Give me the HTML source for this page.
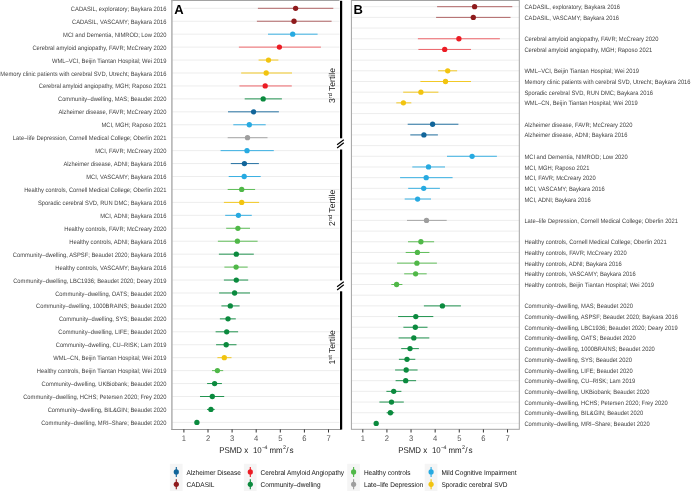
<!DOCTYPE html><html><head><meta charset="utf-8"><style>html,body{margin:0;padding:0;background:#fff;}svg{display:block;will-change:transform;}text{font-family:"Liberation Sans",sans-serif;text-rendering:geometricPrecision;}</style></head><body>
<svg width="691" height="491" viewBox="0 0 691 491">
<rect width="691" height="491" fill="#fff"/>
<line x1="171.9" x2="339.5" y1="8.30" y2="8.30" stroke="#ebebeb" stroke-width="0.9"/>
<line x1="171.9" x2="339.5" y1="21.24" y2="21.24" stroke="#ebebeb" stroke-width="0.9"/>
<line x1="171.9" x2="339.5" y1="34.18" y2="34.18" stroke="#ebebeb" stroke-width="0.9"/>
<line x1="171.9" x2="339.5" y1="47.12" y2="47.12" stroke="#ebebeb" stroke-width="0.9"/>
<line x1="171.9" x2="339.5" y1="60.06" y2="60.06" stroke="#ebebeb" stroke-width="0.9"/>
<line x1="171.9" x2="339.5" y1="73.00" y2="73.00" stroke="#ebebeb" stroke-width="0.9"/>
<line x1="171.9" x2="339.5" y1="85.94" y2="85.94" stroke="#ebebeb" stroke-width="0.9"/>
<line x1="171.9" x2="339.5" y1="98.88" y2="98.88" stroke="#ebebeb" stroke-width="0.9"/>
<line x1="171.9" x2="339.5" y1="111.82" y2="111.82" stroke="#ebebeb" stroke-width="0.9"/>
<line x1="171.9" x2="339.5" y1="124.76" y2="124.76" stroke="#ebebeb" stroke-width="0.9"/>
<line x1="171.9" x2="339.5" y1="137.70" y2="137.70" stroke="#ebebeb" stroke-width="0.9"/>
<line x1="171.9" x2="339.5" y1="150.64" y2="150.64" stroke="#ebebeb" stroke-width="0.9"/>
<line x1="171.9" x2="339.5" y1="163.58" y2="163.58" stroke="#ebebeb" stroke-width="0.9"/>
<line x1="171.9" x2="339.5" y1="176.52" y2="176.52" stroke="#ebebeb" stroke-width="0.9"/>
<line x1="171.9" x2="339.5" y1="189.46" y2="189.46" stroke="#ebebeb" stroke-width="0.9"/>
<line x1="171.9" x2="339.5" y1="202.40" y2="202.40" stroke="#ebebeb" stroke-width="0.9"/>
<line x1="171.9" x2="339.5" y1="215.34" y2="215.34" stroke="#ebebeb" stroke-width="0.9"/>
<line x1="171.9" x2="339.5" y1="228.28" y2="228.28" stroke="#ebebeb" stroke-width="0.9"/>
<line x1="171.9" x2="339.5" y1="241.22" y2="241.22" stroke="#ebebeb" stroke-width="0.9"/>
<line x1="171.9" x2="339.5" y1="254.16" y2="254.16" stroke="#ebebeb" stroke-width="0.9"/>
<line x1="171.9" x2="339.5" y1="267.10" y2="267.10" stroke="#ebebeb" stroke-width="0.9"/>
<line x1="171.9" x2="339.5" y1="280.04" y2="280.04" stroke="#ebebeb" stroke-width="0.9"/>
<line x1="171.9" x2="339.5" y1="292.98" y2="292.98" stroke="#ebebeb" stroke-width="0.9"/>
<line x1="171.9" x2="339.5" y1="305.92" y2="305.92" stroke="#ebebeb" stroke-width="0.9"/>
<line x1="171.9" x2="339.5" y1="318.86" y2="318.86" stroke="#ebebeb" stroke-width="0.9"/>
<line x1="171.9" x2="339.5" y1="331.80" y2="331.80" stroke="#ebebeb" stroke-width="0.9"/>
<line x1="171.9" x2="339.5" y1="344.74" y2="344.74" stroke="#ebebeb" stroke-width="0.9"/>
<line x1="171.9" x2="339.5" y1="357.68" y2="357.68" stroke="#ebebeb" stroke-width="0.9"/>
<line x1="171.9" x2="339.5" y1="370.62" y2="370.62" stroke="#ebebeb" stroke-width="0.9"/>
<line x1="171.9" x2="339.5" y1="383.56" y2="383.56" stroke="#ebebeb" stroke-width="0.9"/>
<line x1="171.9" x2="339.5" y1="396.50" y2="396.50" stroke="#ebebeb" stroke-width="0.9"/>
<line x1="171.9" x2="339.5" y1="409.44" y2="409.44" stroke="#ebebeb" stroke-width="0.9"/>
<line x1="171.9" x2="339.5" y1="422.38" y2="422.38" stroke="#ebebeb" stroke-width="0.9"/>
<line x1="351.9" x2="519.3" y1="6.70" y2="6.70" stroke="#ebebeb" stroke-width="0.9"/>
<line x1="351.9" x2="519.3" y1="17.39" y2="17.39" stroke="#ebebeb" stroke-width="0.9"/>
<line x1="351.9" x2="519.3" y1="28.07" y2="28.07" stroke="#ebebeb" stroke-width="0.9"/>
<line x1="351.9" x2="519.3" y1="38.76" y2="38.76" stroke="#ebebeb" stroke-width="0.9"/>
<line x1="351.9" x2="519.3" y1="49.44" y2="49.44" stroke="#ebebeb" stroke-width="0.9"/>
<line x1="351.9" x2="519.3" y1="60.13" y2="60.13" stroke="#ebebeb" stroke-width="0.9"/>
<line x1="351.9" x2="519.3" y1="70.81" y2="70.81" stroke="#ebebeb" stroke-width="0.9"/>
<line x1="351.9" x2="519.3" y1="81.50" y2="81.50" stroke="#ebebeb" stroke-width="0.9"/>
<line x1="351.9" x2="519.3" y1="92.18" y2="92.18" stroke="#ebebeb" stroke-width="0.9"/>
<line x1="351.9" x2="519.3" y1="102.87" y2="102.87" stroke="#ebebeb" stroke-width="0.9"/>
<line x1="351.9" x2="519.3" y1="113.55" y2="113.55" stroke="#ebebeb" stroke-width="0.9"/>
<line x1="351.9" x2="519.3" y1="124.24" y2="124.24" stroke="#ebebeb" stroke-width="0.9"/>
<line x1="351.9" x2="519.3" y1="134.92" y2="134.92" stroke="#ebebeb" stroke-width="0.9"/>
<line x1="351.9" x2="519.3" y1="145.60" y2="145.60" stroke="#ebebeb" stroke-width="0.9"/>
<line x1="351.9" x2="519.3" y1="156.29" y2="156.29" stroke="#ebebeb" stroke-width="0.9"/>
<line x1="351.9" x2="519.3" y1="166.97" y2="166.97" stroke="#ebebeb" stroke-width="0.9"/>
<line x1="351.9" x2="519.3" y1="177.66" y2="177.66" stroke="#ebebeb" stroke-width="0.9"/>
<line x1="351.9" x2="519.3" y1="188.34" y2="188.34" stroke="#ebebeb" stroke-width="0.9"/>
<line x1="351.9" x2="519.3" y1="199.03" y2="199.03" stroke="#ebebeb" stroke-width="0.9"/>
<line x1="351.9" x2="519.3" y1="209.72" y2="209.72" stroke="#ebebeb" stroke-width="0.9"/>
<line x1="351.9" x2="519.3" y1="220.40" y2="220.40" stroke="#ebebeb" stroke-width="0.9"/>
<line x1="351.9" x2="519.3" y1="231.09" y2="231.09" stroke="#ebebeb" stroke-width="0.9"/>
<line x1="351.9" x2="519.3" y1="241.77" y2="241.77" stroke="#ebebeb" stroke-width="0.9"/>
<line x1="351.9" x2="519.3" y1="252.46" y2="252.46" stroke="#ebebeb" stroke-width="0.9"/>
<line x1="351.9" x2="519.3" y1="263.14" y2="263.14" stroke="#ebebeb" stroke-width="0.9"/>
<line x1="351.9" x2="519.3" y1="273.82" y2="273.82" stroke="#ebebeb" stroke-width="0.9"/>
<line x1="351.9" x2="519.3" y1="284.51" y2="284.51" stroke="#ebebeb" stroke-width="0.9"/>
<line x1="351.9" x2="519.3" y1="295.19" y2="295.19" stroke="#ebebeb" stroke-width="0.9"/>
<line x1="351.9" x2="519.3" y1="305.88" y2="305.88" stroke="#ebebeb" stroke-width="0.9"/>
<line x1="351.9" x2="519.3" y1="316.56" y2="316.56" stroke="#ebebeb" stroke-width="0.9"/>
<line x1="351.9" x2="519.3" y1="327.25" y2="327.25" stroke="#ebebeb" stroke-width="0.9"/>
<line x1="351.9" x2="519.3" y1="337.94" y2="337.94" stroke="#ebebeb" stroke-width="0.9"/>
<line x1="351.9" x2="519.3" y1="348.62" y2="348.62" stroke="#ebebeb" stroke-width="0.9"/>
<line x1="351.9" x2="519.3" y1="359.31" y2="359.31" stroke="#ebebeb" stroke-width="0.9"/>
<line x1="351.9" x2="519.3" y1="369.99" y2="369.99" stroke="#ebebeb" stroke-width="0.9"/>
<line x1="351.9" x2="519.3" y1="380.68" y2="380.68" stroke="#ebebeb" stroke-width="0.9"/>
<line x1="351.9" x2="519.3" y1="391.36" y2="391.36" stroke="#ebebeb" stroke-width="0.9"/>
<line x1="351.9" x2="519.3" y1="402.05" y2="402.05" stroke="#ebebeb" stroke-width="0.9"/>
<line x1="351.9" x2="519.3" y1="412.73" y2="412.73" stroke="#ebebeb" stroke-width="0.9"/>
<line x1="351.9" x2="519.3" y1="423.42" y2="423.42" stroke="#ebebeb" stroke-width="0.9"/>
<line x1="171.4" x2="339.5" y1="0.5" y2="0.5" stroke="#a3a3a3" stroke-width="1"/>
<line x1="171.9" x2="171.9" y1="0" y2="430" stroke="#b0b0b0" stroke-width="1.5"/>
<line x1="171.4" x2="341" y1="429.5" y2="429.5" stroke="#999" stroke-width="1"/>
<rect x="351.4" y="0.5" width="167.89999999999998" height="428.8" fill="none" stroke="#a3a3a3" stroke-width="1"/>
<line x1="257.9" x2="333.3" y1="8.30" y2="8.30" stroke="#8e1a1c" stroke-opacity="0.65" stroke-width="1.0"/>
<circle cx="295.6" cy="8.30" r="2.65" fill="#8e1a1c"/>
<line x1="256.9" x2="331.6" y1="21.24" y2="21.24" stroke="#8e1a1c" stroke-opacity="0.65" stroke-width="1.0"/>
<circle cx="294.0" cy="21.24" r="2.65" fill="#8e1a1c"/>
<line x1="268.0" x2="317.6" y1="34.18" y2="34.18" stroke="#27aae1" stroke-opacity="0.9" stroke-width="1.0"/>
<circle cx="292.7" cy="34.18" r="2.65" fill="#27aae1"/>
<line x1="238.9" x2="320.9" y1="47.12" y2="47.12" stroke="#ec1c24" stroke-opacity="0.65" stroke-width="1.0"/>
<circle cx="279.4" cy="47.12" r="2.65" fill="#ec1c24"/>
<line x1="258.6" x2="278.4" y1="60.06" y2="60.06" stroke="#f2c40f" stroke-opacity="0.9" stroke-width="1.0"/>
<circle cx="268.5" cy="60.06" r="2.65" fill="#f2c40f"/>
<line x1="241.2" x2="292.0" y1="73.00" y2="73.00" stroke="#f2c40f" stroke-opacity="0.9" stroke-width="1.0"/>
<circle cx="266.2" cy="73.00" r="2.65" fill="#f2c40f"/>
<line x1="239.4" x2="291.8" y1="85.94" y2="85.94" stroke="#ec1c24" stroke-opacity="0.65" stroke-width="1.0"/>
<circle cx="265.2" cy="85.94" r="2.65" fill="#ec1c24"/>
<line x1="244.7" x2="281.9" y1="98.88" y2="98.88" stroke="#0b8a3e" stroke-opacity="0.9" stroke-width="1.0"/>
<circle cx="263.2" cy="98.88" r="2.65" fill="#0b8a3e"/>
<line x1="228.0" x2="278.9" y1="111.82" y2="111.82" stroke="#11659a" stroke-opacity="0.9" stroke-width="1.0"/>
<circle cx="253.6" cy="111.82" r="2.65" fill="#11659a"/>
<line x1="233.3" x2="265.7" y1="124.76" y2="124.76" stroke="#27aae1" stroke-opacity="0.9" stroke-width="1.0"/>
<circle cx="249.3" cy="124.76" r="2.65" fill="#27aae1"/>
<line x1="227.7" x2="267.5" y1="137.70" y2="137.70" stroke="#9e9e9e" stroke-opacity="0.9" stroke-width="1.0"/>
<circle cx="247.5" cy="137.70" r="2.65" fill="#9e9e9e"/>
<line x1="220.6" x2="273.8" y1="150.64" y2="150.64" stroke="#27aae1" stroke-opacity="0.9" stroke-width="1.0"/>
<circle cx="247.0" cy="150.64" r="2.65" fill="#27aae1"/>
<line x1="230.8" x2="258.9" y1="163.58" y2="163.58" stroke="#11659a" stroke-opacity="0.9" stroke-width="1.0"/>
<circle cx="244.4" cy="163.58" r="2.65" fill="#11659a"/>
<line x1="228.7" x2="260.7" y1="176.52" y2="176.52" stroke="#27aae1" stroke-opacity="0.9" stroke-width="1.0"/>
<circle cx="244.2" cy="176.52" r="2.65" fill="#27aae1"/>
<line x1="227.7" x2="255.1" y1="189.46" y2="189.46" stroke="#50b848" stroke-opacity="0.9" stroke-width="1.0"/>
<circle cx="241.7" cy="189.46" r="2.65" fill="#50b848"/>
<line x1="223.9" x2="259.1" y1="202.40" y2="202.40" stroke="#f2c40f" stroke-opacity="0.9" stroke-width="1.0"/>
<circle cx="241.7" cy="202.40" r="2.65" fill="#f2c40f"/>
<line x1="225.2" x2="251.8" y1="215.34" y2="215.34" stroke="#27aae1" stroke-opacity="0.9" stroke-width="1.0"/>
<circle cx="238.4" cy="215.34" r="2.65" fill="#27aae1"/>
<line x1="226.2" x2="250.0" y1="228.28" y2="228.28" stroke="#50b848" stroke-opacity="0.9" stroke-width="1.0"/>
<circle cx="237.9" cy="228.28" r="2.65" fill="#50b848"/>
<line x1="217.9" x2="257.6" y1="241.22" y2="241.22" stroke="#50b848" stroke-opacity="0.9" stroke-width="1.0"/>
<circle cx="237.4" cy="241.22" r="2.65" fill="#50b848"/>
<line x1="218.9" x2="253.8" y1="254.16" y2="254.16" stroke="#0b8a3e" stroke-opacity="0.9" stroke-width="1.0"/>
<circle cx="236.3" cy="254.16" r="2.65" fill="#0b8a3e"/>
<line x1="224.4" x2="247.7" y1="267.10" y2="267.10" stroke="#50b848" stroke-opacity="0.9" stroke-width="1.0"/>
<circle cx="236.1" cy="267.10" r="2.65" fill="#50b848"/>
<line x1="223.9" x2="248.2" y1="280.04" y2="280.04" stroke="#0b8a3e" stroke-opacity="0.9" stroke-width="1.0"/>
<circle cx="236.3" cy="280.04" r="2.65" fill="#0b8a3e"/>
<line x1="219.1" x2="250.0" y1="292.98" y2="292.98" stroke="#0b8a3e" stroke-opacity="0.9" stroke-width="1.0"/>
<circle cx="234.6" cy="292.98" r="2.65" fill="#0b8a3e"/>
<line x1="221.4" x2="239.6" y1="305.92" y2="305.92" stroke="#0b8a3e" stroke-opacity="0.9" stroke-width="1.0"/>
<circle cx="230.3" cy="305.92" r="2.65" fill="#0b8a3e"/>
<line x1="219.9" x2="235.8" y1="318.86" y2="318.86" stroke="#0b8a3e" stroke-opacity="0.9" stroke-width="1.0"/>
<circle cx="228.0" cy="318.86" r="2.65" fill="#0b8a3e"/>
<line x1="215.6" x2="238.1" y1="331.80" y2="331.80" stroke="#0b8a3e" stroke-opacity="0.9" stroke-width="1.0"/>
<circle cx="226.7" cy="331.80" r="2.65" fill="#0b8a3e"/>
<line x1="216.1" x2="236.5" y1="344.74" y2="344.74" stroke="#0b8a3e" stroke-opacity="0.9" stroke-width="1.0"/>
<circle cx="226.2" cy="344.74" r="2.65" fill="#0b8a3e"/>
<line x1="217.4" x2="231.5" y1="357.68" y2="357.68" stroke="#f2c40f" stroke-opacity="0.9" stroke-width="1.0"/>
<circle cx="224.3" cy="357.68" r="2.65" fill="#f2c40f"/>
<line x1="212.0" x2="223.2" y1="370.62" y2="370.62" stroke="#50b848" stroke-opacity="0.9" stroke-width="1.0"/>
<circle cx="217.4" cy="370.62" r="2.65" fill="#50b848"/>
<line x1="207.1" x2="221.9" y1="383.56" y2="383.56" stroke="#0b8a3e" stroke-opacity="0.9" stroke-width="1.0"/>
<circle cx="214.6" cy="383.56" r="2.65" fill="#0b8a3e"/>
<line x1="200.0" x2="224.2" y1="396.50" y2="396.50" stroke="#0b8a3e" stroke-opacity="0.9" stroke-width="1.0"/>
<circle cx="212.3" cy="396.50" r="2.65" fill="#0b8a3e"/>
<line x1="207.0" x2="214.7" y1="409.44" y2="409.44" stroke="#0b8a3e" stroke-opacity="0.9" stroke-width="1.0"/>
<circle cx="210.9" cy="409.44" r="2.65" fill="#0b8a3e"/>
<line x1="195.3" x2="198.5" y1="422.38" y2="422.38" stroke="#0b8a3e" stroke-opacity="0.9" stroke-width="1.0"/>
<circle cx="196.9" cy="422.38" r="2.65" fill="#0b8a3e"/>
<line x1="437.1" x2="512.3" y1="6.70" y2="6.70" stroke="#8e1a1c" stroke-opacity="0.65" stroke-width="1.0"/>
<circle cx="474.6" cy="6.70" r="2.65" fill="#8e1a1c"/>
<line x1="436.1" x2="510.5" y1="17.39" y2="17.39" stroke="#8e1a1c" stroke-opacity="0.65" stroke-width="1.0"/>
<circle cx="473.3" cy="17.39" r="2.65" fill="#8e1a1c"/>
<line x1="417.9" x2="499.9" y1="38.76" y2="38.76" stroke="#ec1c24" stroke-opacity="0.65" stroke-width="1.0"/>
<circle cx="458.9" cy="38.76" r="2.65" fill="#ec1c24"/>
<line x1="418.4" x2="471.0" y1="49.44" y2="49.44" stroke="#ec1c24" stroke-opacity="0.65" stroke-width="1.0"/>
<circle cx="444.7" cy="49.44" r="2.65" fill="#ec1c24"/>
<line x1="438.1" x2="457.1" y1="70.81" y2="70.81" stroke="#f2c40f" stroke-opacity="0.9" stroke-width="1.0"/>
<circle cx="447.7" cy="70.81" r="2.65" fill="#f2c40f"/>
<line x1="420.4" x2="471.0" y1="81.50" y2="81.50" stroke="#f2c40f" stroke-opacity="0.9" stroke-width="1.0"/>
<circle cx="445.5" cy="81.50" r="2.65" fill="#f2c40f"/>
<line x1="403.2" x2="438.4" y1="92.18" y2="92.18" stroke="#f2c40f" stroke-opacity="0.9" stroke-width="1.0"/>
<circle cx="420.9" cy="92.18" r="2.65" fill="#f2c40f"/>
<line x1="396.3" x2="411.3" y1="102.87" y2="102.87" stroke="#f2c40f" stroke-opacity="0.9" stroke-width="1.0"/>
<circle cx="403.4" cy="102.87" r="2.65" fill="#f2c40f"/>
<line x1="407.7" x2="458.4" y1="124.24" y2="124.24" stroke="#11659a" stroke-opacity="0.9" stroke-width="1.0"/>
<circle cx="432.6" cy="124.24" r="2.65" fill="#11659a"/>
<line x1="410.3" x2="437.9" y1="134.92" y2="134.92" stroke="#11659a" stroke-opacity="0.9" stroke-width="1.0"/>
<circle cx="423.9" cy="134.92" r="2.65" fill="#11659a"/>
<line x1="447.0" x2="496.9" y1="156.29" y2="156.29" stroke="#27aae1" stroke-opacity="0.9" stroke-width="1.0"/>
<circle cx="472.1" cy="156.29" r="2.65" fill="#27aae1"/>
<line x1="412.3" x2="445.0" y1="166.97" y2="166.97" stroke="#27aae1" stroke-opacity="0.9" stroke-width="1.0"/>
<circle cx="428.5" cy="166.97" r="2.65" fill="#27aae1"/>
<line x1="400.1" x2="452.6" y1="177.66" y2="177.66" stroke="#27aae1" stroke-opacity="0.9" stroke-width="1.0"/>
<circle cx="426.2" cy="177.66" r="2.65" fill="#27aae1"/>
<line x1="408.2" x2="439.9" y1="188.34" y2="188.34" stroke="#27aae1" stroke-opacity="0.9" stroke-width="1.0"/>
<circle cx="423.7" cy="188.34" r="2.65" fill="#27aae1"/>
<line x1="404.7" x2="431.0" y1="199.03" y2="199.03" stroke="#27aae1" stroke-opacity="0.9" stroke-width="1.0"/>
<circle cx="417.6" cy="199.03" r="2.65" fill="#27aae1"/>
<line x1="407.0" x2="446.7" y1="220.40" y2="220.40" stroke="#9e9e9e" stroke-opacity="0.9" stroke-width="1.0"/>
<circle cx="426.5" cy="220.40" r="2.65" fill="#9e9e9e"/>
<line x1="408.0" x2="434.1" y1="241.77" y2="241.77" stroke="#50b848" stroke-opacity="0.9" stroke-width="1.0"/>
<circle cx="420.9" cy="241.77" r="2.65" fill="#50b848"/>
<line x1="405.7" x2="429.4" y1="252.46" y2="252.46" stroke="#50b848" stroke-opacity="0.9" stroke-width="1.0"/>
<circle cx="417.4" cy="252.46" r="2.65" fill="#50b848"/>
<line x1="397.1" x2="436.9" y1="263.14" y2="263.14" stroke="#50b848" stroke-opacity="0.9" stroke-width="1.0"/>
<circle cx="416.9" cy="263.14" r="2.65" fill="#50b848"/>
<line x1="404.2" x2="426.7" y1="273.82" y2="273.82" stroke="#50b848" stroke-opacity="0.9" stroke-width="1.0"/>
<circle cx="415.6" cy="273.82" r="2.65" fill="#50b848"/>
<line x1="391.3" x2="402.4" y1="284.51" y2="284.51" stroke="#50b848" stroke-opacity="0.9" stroke-width="1.0"/>
<circle cx="396.6" cy="284.51" r="2.65" fill="#50b848"/>
<line x1="423.9" x2="460.9" y1="305.88" y2="305.88" stroke="#0b8a3e" stroke-opacity="0.9" stroke-width="1.0"/>
<circle cx="442.4" cy="305.88" r="2.65" fill="#0b8a3e"/>
<line x1="398.1" x2="433.3" y1="316.56" y2="316.56" stroke="#0b8a3e" stroke-opacity="0.9" stroke-width="1.0"/>
<circle cx="415.8" cy="316.56" r="2.65" fill="#0b8a3e"/>
<line x1="403.4" x2="427.5" y1="327.25" y2="327.25" stroke="#0b8a3e" stroke-opacity="0.9" stroke-width="1.0"/>
<circle cx="415.3" cy="327.25" r="2.65" fill="#0b8a3e"/>
<line x1="398.6" x2="429.3" y1="337.94" y2="337.94" stroke="#0b8a3e" stroke-opacity="0.9" stroke-width="1.0"/>
<circle cx="413.8" cy="337.94" r="2.65" fill="#0b8a3e"/>
<line x1="401.2" x2="418.9" y1="348.62" y2="348.62" stroke="#0b8a3e" stroke-opacity="0.9" stroke-width="1.0"/>
<circle cx="410.0" cy="348.62" r="2.65" fill="#0b8a3e"/>
<line x1="398.9" x2="415.3" y1="359.31" y2="359.31" stroke="#0b8a3e" stroke-opacity="0.9" stroke-width="1.0"/>
<circle cx="407.0" cy="359.31" r="2.65" fill="#0b8a3e"/>
<line x1="395.1" x2="417.6" y1="369.99" y2="369.99" stroke="#0b8a3e" stroke-opacity="0.9" stroke-width="1.0"/>
<circle cx="406.2" cy="369.99" r="2.65" fill="#0b8a3e"/>
<line x1="395.6" x2="416.1" y1="380.68" y2="380.68" stroke="#0b8a3e" stroke-opacity="0.9" stroke-width="1.0"/>
<circle cx="405.7" cy="380.68" r="2.65" fill="#0b8a3e"/>
<line x1="386.4" x2="401.4" y1="391.36" y2="391.36" stroke="#0b8a3e" stroke-opacity="0.9" stroke-width="1.0"/>
<circle cx="393.7" cy="391.36" r="2.65" fill="#0b8a3e"/>
<line x1="379.4" x2="403.8" y1="402.05" y2="402.05" stroke="#0b8a3e" stroke-opacity="0.9" stroke-width="1.0"/>
<circle cx="391.5" cy="402.05" r="2.65" fill="#0b8a3e"/>
<line x1="386.6" x2="394.2" y1="412.73" y2="412.73" stroke="#0b8a3e" stroke-opacity="0.9" stroke-width="1.0"/>
<circle cx="390.4" cy="412.73" r="2.65" fill="#0b8a3e"/>
<line x1="374.6" x2="377.8" y1="423.42" y2="423.42" stroke="#0b8a3e" stroke-opacity="0.9" stroke-width="1.0"/>
<circle cx="376.2" cy="423.42" r="2.65" fill="#0b8a3e"/>
<text x="166.5" y="10.85" font-size="6.3" fill="#424242" text-anchor="end" textLength="95.66" lengthAdjust="spacingAndGlyphs">CADASIL, exploratory; Baykara 2016</text>
<text x="166.5" y="23.79" font-size="6.3" fill="#424242" text-anchor="end" textLength="94.52" lengthAdjust="spacingAndGlyphs">CADASIL, VASCAMY; Baykara 2016</text>
<text x="166.5" y="36.73" font-size="6.3" fill="#424242" text-anchor="end" textLength="103.38" lengthAdjust="spacingAndGlyphs">MCI and Dementia, NIMROD; Low 2020</text>
<text x="166.5" y="49.67" font-size="6.3" fill="#424242" text-anchor="end" textLength="134.08" lengthAdjust="spacingAndGlyphs">Cerebral amyloid angiopathy, FAVR; McCreary 2020</text>
<text x="166.5" y="62.61" font-size="6.3" fill="#424242" text-anchor="end" textLength="114.55" lengthAdjust="spacingAndGlyphs">WML–VCI, Beijin Tiantan Hospital; Wei 2019</text>
<text x="166.5" y="75.55" font-size="6.3" fill="#424242" text-anchor="end" textLength="166.17" lengthAdjust="spacingAndGlyphs">Memory clinic patients with cerebral SVD, Utrecht; Baykara 2016</text>
<text x="166.5" y="88.49" font-size="6.3" fill="#424242" text-anchor="end" textLength="127.76" lengthAdjust="spacingAndGlyphs">Cerebral amyloid angiopathy, MGH; Raposo 2021</text>
<text x="166.5" y="101.43" font-size="6.3" fill="#424242" text-anchor="end" textLength="108.54" lengthAdjust="spacingAndGlyphs">Community–dwelling, MAS; Beaudet 2020</text>
<text x="166.5" y="114.37" font-size="6.3" fill="#424242" text-anchor="end" textLength="108.10" lengthAdjust="spacingAndGlyphs">Alzheimer disease, FAVR; McCreary 2020</text>
<text x="166.5" y="127.31" font-size="6.3" fill="#424242" text-anchor="end" textLength="65.05" lengthAdjust="spacingAndGlyphs">MCI, MGH; Raposo 2021</text>
<text x="166.5" y="140.25" font-size="6.3" fill="#424242" text-anchor="end" textLength="153.64" lengthAdjust="spacingAndGlyphs">Late–life Depression, Cornell Medical College; Oberlin 2021</text>
<text x="166.5" y="153.19" font-size="6.3" fill="#424242" text-anchor="end" textLength="71.37" lengthAdjust="spacingAndGlyphs">MCI, FAVR; McCreary 2020</text>
<text x="166.5" y="166.13" font-size="6.3" fill="#424242" text-anchor="end" textLength="103.07" lengthAdjust="spacingAndGlyphs">Alzheimer disease, ADNI; Baykara 2016</text>
<text x="166.5" y="179.07" font-size="6.3" fill="#424242" text-anchor="end" textLength="80.34" lengthAdjust="spacingAndGlyphs">MCI, VASCAMY; Baykara 2016</text>
<text x="166.5" y="192.01" font-size="6.3" fill="#424242" text-anchor="end" textLength="142.36" lengthAdjust="spacingAndGlyphs">Healthy controls, Cornell Medical College; Oberlin 2021</text>
<text x="166.5" y="204.95" font-size="6.3" fill="#424242" text-anchor="end" textLength="128.49" lengthAdjust="spacingAndGlyphs">Sporadic cerebral SVD, RUN DMC; Baykara 2016</text>
<text x="166.5" y="217.89" font-size="6.3" fill="#424242" text-anchor="end" textLength="66.34" lengthAdjust="spacingAndGlyphs">MCI, ADNI; Baykara 2016</text>
<text x="166.5" y="230.83" font-size="6.3" fill="#424242" text-anchor="end" textLength="102.29" lengthAdjust="spacingAndGlyphs">Healthy controls, FAVR; McCreary 2020</text>
<text x="166.5" y="243.77" font-size="6.3" fill="#424242" text-anchor="end" textLength="97.26" lengthAdjust="spacingAndGlyphs">Healthy controls, ADNI; Baykara 2016</text>
<text x="166.5" y="256.71" font-size="6.3" fill="#424242" text-anchor="end" textLength="153.64" lengthAdjust="spacingAndGlyphs">Community–dwelling, ASPSF; Beaudet 2020; Baykara 2016</text>
<text x="166.5" y="269.65" font-size="6.3" fill="#424242" text-anchor="end" textLength="111.26" lengthAdjust="spacingAndGlyphs">Healthy controls, VASCAMY; Baykara 2016</text>
<text x="166.5" y="282.59" font-size="6.3" fill="#424242" text-anchor="end" textLength="153.33" lengthAdjust="spacingAndGlyphs">Community–dwelling, LBC1936; Beaudet 2020; Deary 2019</text>
<text x="166.5" y="295.53" font-size="6.3" fill="#424242" text-anchor="end" textLength="111.33" lengthAdjust="spacingAndGlyphs">Community–dwelling, OATS; Beaudet 2020</text>
<text x="166.5" y="308.47" font-size="6.3" fill="#424242" text-anchor="end" textLength="130.44" lengthAdjust="spacingAndGlyphs">Community–dwelling, 1000BRAINS; Beaudet 2020</text>
<text x="166.5" y="321.41" font-size="6.3" fill="#424242" text-anchor="end" textLength="107.58" lengthAdjust="spacingAndGlyphs">Community–dwelling, SYS; Beaudet 2020</text>
<text x="166.5" y="334.35" font-size="6.3" fill="#424242" text-anchor="end" textLength="108.23" lengthAdjust="spacingAndGlyphs">Community–dwelling, LIFE; Beaudet 2020</text>
<text x="166.5" y="347.29" font-size="6.3" fill="#424242" text-anchor="end" textLength="110.78" lengthAdjust="spacingAndGlyphs">Community–dwelling, CU–RISK; Lam 2019</text>
<text x="166.5" y="360.23" font-size="6.3" fill="#424242" text-anchor="end" textLength="113.26" lengthAdjust="spacingAndGlyphs">WML–CN, Beijin Tiantan Hospital; Wei 2019</text>
<text x="166.5" y="373.17" font-size="6.3" fill="#424242" text-anchor="end" textLength="129.69" lengthAdjust="spacingAndGlyphs">Healthy controls, Beijin Tiantan Hospital; Wei 2019</text>
<text x="166.5" y="386.11" font-size="6.3" fill="#424242" text-anchor="end" textLength="124.98" lengthAdjust="spacingAndGlyphs">Community–dwelling, UKBiobank; Beaudet 2020</text>
<text x="166.5" y="399.05" font-size="6.3" fill="#424242" text-anchor="end" textLength="143.32" lengthAdjust="spacingAndGlyphs">Community–dwelling, HCHS; Petersen 2020; Frey 2020</text>
<text x="166.5" y="411.99" font-size="6.3" fill="#424242" text-anchor="end" textLength="118.86" lengthAdjust="spacingAndGlyphs">Community–dwelling, BIL&amp;GIN; Beaudet 2020</text>
<text x="166.5" y="424.93" font-size="6.3" fill="#424242" text-anchor="end" textLength="125.30" lengthAdjust="spacingAndGlyphs">Community–dwelling, MRI–Share; Beaudet 2020</text>
<text x="524.4" y="9.25" font-size="6.3" fill="#424242" textLength="95.66" lengthAdjust="spacingAndGlyphs">CADASIL, exploratory; Baykara 2016</text>
<text x="524.4" y="19.94" font-size="6.3" fill="#424242" textLength="94.52" lengthAdjust="spacingAndGlyphs">CADASIL, VASCAMY; Baykara 2016</text>
<text x="524.4" y="41.30" font-size="6.3" fill="#424242" textLength="134.08" lengthAdjust="spacingAndGlyphs">Cerebral amyloid angiopathy, FAVR; McCreary 2020</text>
<text x="524.4" y="51.99" font-size="6.3" fill="#424242" textLength="127.76" lengthAdjust="spacingAndGlyphs">Cerebral amyloid angiopathy, MGH; Raposo 2021</text>
<text x="524.4" y="73.36" font-size="6.3" fill="#424242" textLength="114.55" lengthAdjust="spacingAndGlyphs">WML–VCI, Beijin Tiantan Hospital; Wei 2019</text>
<text x="524.4" y="84.05" font-size="6.3" fill="#424242" textLength="166.17" lengthAdjust="spacingAndGlyphs">Memory clinic patients with cerebral SVD, Utrecht; Baykara 2016</text>
<text x="524.4" y="94.73" font-size="6.3" fill="#424242" textLength="128.49" lengthAdjust="spacingAndGlyphs">Sporadic cerebral SVD, RUN DMC; Baykara 2016</text>
<text x="524.4" y="105.42" font-size="6.3" fill="#424242" textLength="113.26" lengthAdjust="spacingAndGlyphs">WML–CN, Beijin Tiantan Hospital; Wei 2019</text>
<text x="524.4" y="126.79" font-size="6.3" fill="#424242" textLength="108.10" lengthAdjust="spacingAndGlyphs">Alzheimer disease, FAVR; McCreary 2020</text>
<text x="524.4" y="137.47" font-size="6.3" fill="#424242" textLength="103.07" lengthAdjust="spacingAndGlyphs">Alzheimer disease, ADNI; Baykara 2016</text>
<text x="524.4" y="158.84" font-size="6.3" fill="#424242" textLength="103.38" lengthAdjust="spacingAndGlyphs">MCI and Dementia, NIMROD; Low 2020</text>
<text x="524.4" y="169.53" font-size="6.3" fill="#424242" textLength="65.05" lengthAdjust="spacingAndGlyphs">MCI, MGH; Raposo 2021</text>
<text x="524.4" y="180.21" font-size="6.3" fill="#424242" textLength="71.37" lengthAdjust="spacingAndGlyphs">MCI, FAVR; McCreary 2020</text>
<text x="524.4" y="190.90" font-size="6.3" fill="#424242" textLength="80.34" lengthAdjust="spacingAndGlyphs">MCI, VASCAMY; Baykara 2016</text>
<text x="524.4" y="201.58" font-size="6.3" fill="#424242" textLength="66.34" lengthAdjust="spacingAndGlyphs">MCI, ADNI; Baykara 2016</text>
<text x="524.4" y="222.95" font-size="6.3" fill="#424242" textLength="153.64" lengthAdjust="spacingAndGlyphs">Late–life Depression, Cornell Medical College; Oberlin 2021</text>
<text x="524.4" y="244.32" font-size="6.3" fill="#424242" textLength="142.36" lengthAdjust="spacingAndGlyphs">Healthy controls, Cornell Medical College; Oberlin 2021</text>
<text x="524.4" y="255.01" font-size="6.3" fill="#424242" textLength="102.29" lengthAdjust="spacingAndGlyphs">Healthy controls, FAVR; McCreary 2020</text>
<text x="524.4" y="265.69" font-size="6.3" fill="#424242" textLength="97.26" lengthAdjust="spacingAndGlyphs">Healthy controls, ADNI; Baykara 2016</text>
<text x="524.4" y="276.38" font-size="6.3" fill="#424242" textLength="111.26" lengthAdjust="spacingAndGlyphs">Healthy controls, VASCAMY; Baykara 2016</text>
<text x="524.4" y="287.06" font-size="6.3" fill="#424242" textLength="129.69" lengthAdjust="spacingAndGlyphs">Healthy controls, Beijin Tiantan Hospital; Wei 2019</text>
<text x="524.4" y="308.43" font-size="6.3" fill="#424242" textLength="108.54" lengthAdjust="spacingAndGlyphs">Community–dwelling, MAS; Beaudet 2020</text>
<text x="524.4" y="319.12" font-size="6.3" fill="#424242" textLength="153.64" lengthAdjust="spacingAndGlyphs">Community–dwelling, ASPSF; Beaudet 2020; Baykara 2016</text>
<text x="524.4" y="329.80" font-size="6.3" fill="#424242" textLength="153.33" lengthAdjust="spacingAndGlyphs">Community–dwelling, LBC1936; Beaudet 2020; Deary 2019</text>
<text x="524.4" y="340.49" font-size="6.3" fill="#424242" textLength="111.33" lengthAdjust="spacingAndGlyphs">Community–dwelling, OATS; Beaudet 2020</text>
<text x="524.4" y="351.17" font-size="6.3" fill="#424242" textLength="130.44" lengthAdjust="spacingAndGlyphs">Community–dwelling, 1000BRAINS; Beaudet 2020</text>
<text x="524.4" y="361.86" font-size="6.3" fill="#424242" textLength="107.58" lengthAdjust="spacingAndGlyphs">Community–dwelling, SYS; Beaudet 2020</text>
<text x="524.4" y="372.54" font-size="6.3" fill="#424242" textLength="108.23" lengthAdjust="spacingAndGlyphs">Community–dwelling, LIFE; Beaudet 2020</text>
<text x="524.4" y="383.23" font-size="6.3" fill="#424242" textLength="110.78" lengthAdjust="spacingAndGlyphs">Community–dwelling, CU–RISK; Lam 2019</text>
<text x="524.4" y="393.91" font-size="6.3" fill="#424242" textLength="124.98" lengthAdjust="spacingAndGlyphs">Community–dwelling, UKBiobank; Beaudet 2020</text>
<text x="524.4" y="404.60" font-size="6.3" fill="#424242" textLength="143.32" lengthAdjust="spacingAndGlyphs">Community–dwelling, HCHS; Petersen 2020; Frey 2020</text>
<text x="524.4" y="415.28" font-size="6.3" fill="#424242" textLength="118.86" lengthAdjust="spacingAndGlyphs">Community–dwelling, BIL&amp;GIN; Beaudet 2020</text>
<text x="524.4" y="425.97" font-size="6.3" fill="#424242" textLength="125.30" lengthAdjust="spacingAndGlyphs">Community–dwelling, MRI–Share; Beaudet 2020</text>
<rect x="172.7" y="2.5" width="10.9" height="13" fill="#fff"/>
<rect x="352.7" y="2.5" width="10.5" height="13" fill="#fff"/>
<text x="174.3" y="13.9" font-size="13" font-weight="bold" fill="#000">A</text>
<text x="353.4" y="13.9" font-size="13" font-weight="bold" fill="#000">B</text>
<g stroke="#000" stroke-width="2.2">
<line x1="341.1" x2="341.1" y1="0.8" y2="138.3"/>
<line x1="341.1" x2="341.1" y1="149.5" y2="280.4"/>
<line x1="341.1" x2="341.1" y1="291.3" y2="429.6"/>
</g>
<g stroke="#000" stroke-width="1.2">
<line x1="337.1" y1="144.8" x2="343.8" y2="139.70000000000002"/>
<line x1="337.1" y1="148.0" x2="343.8" y2="142.75"/>
<line x1="337.1" y1="286.75" x2="343.8" y2="281.65000000000003"/>
<line x1="337.1" y1="289.95000000000005" x2="343.8" y2="284.70000000000005"/>
</g>
<text transform="translate(335.3,85.5) rotate(-90)" font-size="8.6" fill="#1a1a1a" text-anchor="middle">3<tspan font-size="5.6" dy="-3">rd</tspan><tspan dy="3" xml:space="preserve"> Tertile</tspan></text>
<text transform="translate(335.3,207.8) rotate(-90)" font-size="8.6" fill="#1a1a1a" text-anchor="middle">2<tspan font-size="5.6" dy="-3">nd</tspan><tspan dy="3" xml:space="preserve"> Tertile</tspan></text>
<text transform="translate(335.3,347.3) rotate(-90)" font-size="8.6" fill="#1a1a1a" text-anchor="middle">1<tspan font-size="5.6" dy="-3">st</tspan><tspan dy="3" xml:space="preserve"> Tertile</tspan></text>
<line x1="183.90" x2="183.90" y1="429.3" y2="432.5" stroke="#333" stroke-width="1"/>
<text x="183.90" y="440.7" font-size="8.1" textLength="4.25" lengthAdjust="spacingAndGlyphs" fill="#555" text-anchor="middle">1</text>
<line x1="208.00" x2="208.00" y1="429.3" y2="432.5" stroke="#333" stroke-width="1"/>
<text x="208.00" y="440.7" font-size="8.1" textLength="4.25" lengthAdjust="spacingAndGlyphs" fill="#555" text-anchor="middle">2</text>
<line x1="232.10" x2="232.10" y1="429.3" y2="432.5" stroke="#333" stroke-width="1"/>
<text x="232.10" y="440.7" font-size="8.1" textLength="4.25" lengthAdjust="spacingAndGlyphs" fill="#555" text-anchor="middle">3</text>
<line x1="256.20" x2="256.20" y1="429.3" y2="432.5" stroke="#333" stroke-width="1"/>
<text x="256.20" y="440.7" font-size="8.1" textLength="4.25" lengthAdjust="spacingAndGlyphs" fill="#555" text-anchor="middle">4</text>
<line x1="280.30" x2="280.30" y1="429.3" y2="432.5" stroke="#333" stroke-width="1"/>
<text x="280.30" y="440.7" font-size="8.1" textLength="4.25" lengthAdjust="spacingAndGlyphs" fill="#555" text-anchor="middle">5</text>
<line x1="304.40" x2="304.40" y1="429.3" y2="432.5" stroke="#333" stroke-width="1"/>
<text x="304.40" y="440.7" font-size="8.1" textLength="4.25" lengthAdjust="spacingAndGlyphs" fill="#555" text-anchor="middle">6</text>
<line x1="328.50" x2="328.50" y1="429.3" y2="432.5" stroke="#333" stroke-width="1"/>
<text x="328.50" y="440.7" font-size="8.1" textLength="4.25" lengthAdjust="spacingAndGlyphs" fill="#555" text-anchor="middle">7</text>
<line x1="362.80" x2="362.80" y1="429.3" y2="432.5" stroke="#333" stroke-width="1"/>
<text x="362.80" y="440.7" font-size="8.1" textLength="4.25" lengthAdjust="spacingAndGlyphs" fill="#555" text-anchor="middle">1</text>
<line x1="386.92" x2="386.92" y1="429.3" y2="432.5" stroke="#333" stroke-width="1"/>
<text x="386.92" y="440.7" font-size="8.1" textLength="4.25" lengthAdjust="spacingAndGlyphs" fill="#555" text-anchor="middle">2</text>
<line x1="411.04" x2="411.04" y1="429.3" y2="432.5" stroke="#333" stroke-width="1"/>
<text x="411.04" y="440.7" font-size="8.1" textLength="4.25" lengthAdjust="spacingAndGlyphs" fill="#555" text-anchor="middle">3</text>
<line x1="435.16" x2="435.16" y1="429.3" y2="432.5" stroke="#333" stroke-width="1"/>
<text x="435.16" y="440.7" font-size="8.1" textLength="4.25" lengthAdjust="spacingAndGlyphs" fill="#555" text-anchor="middle">4</text>
<line x1="459.28" x2="459.28" y1="429.3" y2="432.5" stroke="#333" stroke-width="1"/>
<text x="459.28" y="440.7" font-size="8.1" textLength="4.25" lengthAdjust="spacingAndGlyphs" fill="#555" text-anchor="middle">5</text>
<line x1="483.40" x2="483.40" y1="429.3" y2="432.5" stroke="#333" stroke-width="1"/>
<text x="483.40" y="440.7" font-size="8.1" textLength="4.25" lengthAdjust="spacingAndGlyphs" fill="#555" text-anchor="middle">6</text>
<line x1="507.52" x2="507.52" y1="429.3" y2="432.5" stroke="#333" stroke-width="1"/>
<text x="507.52" y="440.7" font-size="8.1" textLength="4.25" lengthAdjust="spacingAndGlyphs" fill="#555" text-anchor="middle">7</text>
<text x="219.20" y="452.5" font-size="8.4" textLength="28.99" lengthAdjust="spacingAndGlyphs" fill="#1a1a1a">PSMD x</text>
<text x="252.90" y="452.5" font-size="8.4" textLength="8.79" lengthAdjust="spacingAndGlyphs" fill="#1a1a1a">10</text>
<text x="261.90" y="448.8" font-size="5.2" letter-spacing="-0.3" fill="#1a1a1a">−4</text>
<text x="269.40" y="452.5" font-size="8.4" textLength="13.16" lengthAdjust="spacingAndGlyphs" fill="#1a1a1a">mm</text>
<text x="282.90" y="448.5" font-size="5.4" fill="#1a1a1a">2</text>
<text x="286.20" y="452.5" font-size="8.2" fill="#1a1a1a">/</text>
<text x="289.50" y="452.5" font-size="8.2" fill="#1a1a1a">s</text>
<text x="398.20" y="452.5" font-size="8.4" textLength="28.99" lengthAdjust="spacingAndGlyphs" fill="#1a1a1a">PSMD x</text>
<text x="431.90" y="452.5" font-size="8.4" textLength="8.79" lengthAdjust="spacingAndGlyphs" fill="#1a1a1a">10</text>
<text x="440.90" y="448.8" font-size="5.2" letter-spacing="-0.3" fill="#1a1a1a">−4</text>
<text x="448.40" y="452.5" font-size="8.4" textLength="13.16" lengthAdjust="spacingAndGlyphs" fill="#1a1a1a">mm</text>
<text x="461.90" y="448.5" font-size="5.4" fill="#1a1a1a">2</text>
<text x="465.20" y="452.5" font-size="8.2" fill="#1a1a1a">/</text>
<text x="468.50" y="452.5" font-size="8.2" fill="#1a1a1a">s</text>
<rect x="169.9" y="463.8" width="12.7" height="28" fill="#f5f5f5"/>
<rect x="243.9" y="463.8" width="12.7" height="28" fill="#f5f5f5"/>
<rect x="347.20000000000005" y="463.8" width="12.7" height="28" fill="#f5f5f5"/>
<rect x="424.70000000000005" y="463.8" width="12.7" height="28" fill="#f5f5f5"/>
<line x1="176.3" x2="176.3" y1="466.9" y2="476.9" stroke="#11659a" stroke-width="1.1"/>
<circle cx="176.3" cy="471.9" r="2.6" fill="#11659a"/>
<text x="186.60000000000002" y="474.59999999999997" font-size="6.9" textLength="54.19" lengthAdjust="spacingAndGlyphs" fill="#111">Alzheimer Disease</text>
<line x1="176.3" x2="176.3" y1="479.3" y2="489.3" stroke="#8e1a1c" stroke-width="1.1"/>
<circle cx="176.3" cy="484.3" r="2.6" fill="#8e1a1c"/>
<text x="186.60000000000002" y="487.0" font-size="6.9" textLength="27.83" lengthAdjust="spacingAndGlyphs" fill="#111">CADASIL</text>
<line x1="250.3" x2="250.3" y1="466.9" y2="476.9" stroke="#ec1c24" stroke-width="1.1"/>
<circle cx="250.3" cy="471.9" r="2.6" fill="#ec1c24"/>
<text x="260.6" y="474.59999999999997" font-size="6.9" textLength="83.47" lengthAdjust="spacingAndGlyphs" fill="#111">Cerebral Amyloid Angiopathy</text>
<line x1="250.3" x2="250.3" y1="479.3" y2="489.3" stroke="#0b8a3e" stroke-width="1.1"/>
<circle cx="250.3" cy="484.3" r="2.6" fill="#0b8a3e"/>
<text x="260.6" y="487.0" font-size="6.9" textLength="59.98" lengthAdjust="spacingAndGlyphs" fill="#111">Community–dwelling</text>
<line x1="353.6" x2="353.6" y1="466.9" y2="476.9" stroke="#50b848" stroke-width="1.1"/>
<circle cx="353.6" cy="471.9" r="2.6" fill="#50b848"/>
<text x="363.90000000000003" y="474.59999999999997" font-size="6.9" textLength="46.61" lengthAdjust="spacingAndGlyphs" fill="#111">Healthy controls</text>
<line x1="353.6" x2="353.6" y1="479.3" y2="489.3" stroke="#9e9e9e" stroke-width="1.1"/>
<circle cx="353.6" cy="484.3" r="2.6" fill="#9e9e9e"/>
<text x="363.90000000000003" y="487.0" font-size="6.9" textLength="59.27" lengthAdjust="spacingAndGlyphs" fill="#111">Late–life Depression</text>
<line x1="431.1" x2="431.1" y1="466.9" y2="476.9" stroke="#27aae1" stroke-width="1.1"/>
<circle cx="431.1" cy="471.9" r="2.6" fill="#27aae1"/>
<text x="441.40000000000003" y="474.59999999999997" font-size="6.9" textLength="75.14" lengthAdjust="spacingAndGlyphs" fill="#111">Mild Cognitive Impairment</text>
<line x1="431.1" x2="431.1" y1="479.3" y2="489.3" stroke="#f2c40f" stroke-width="1.1"/>
<circle cx="431.1" cy="484.3" r="2.6" fill="#f2c40f"/>
<text x="441.40000000000003" y="487.0" font-size="6.9" textLength="66.12" lengthAdjust="spacingAndGlyphs" fill="#111">Sporadic cerebral SVD</text>
</svg></body></html>
